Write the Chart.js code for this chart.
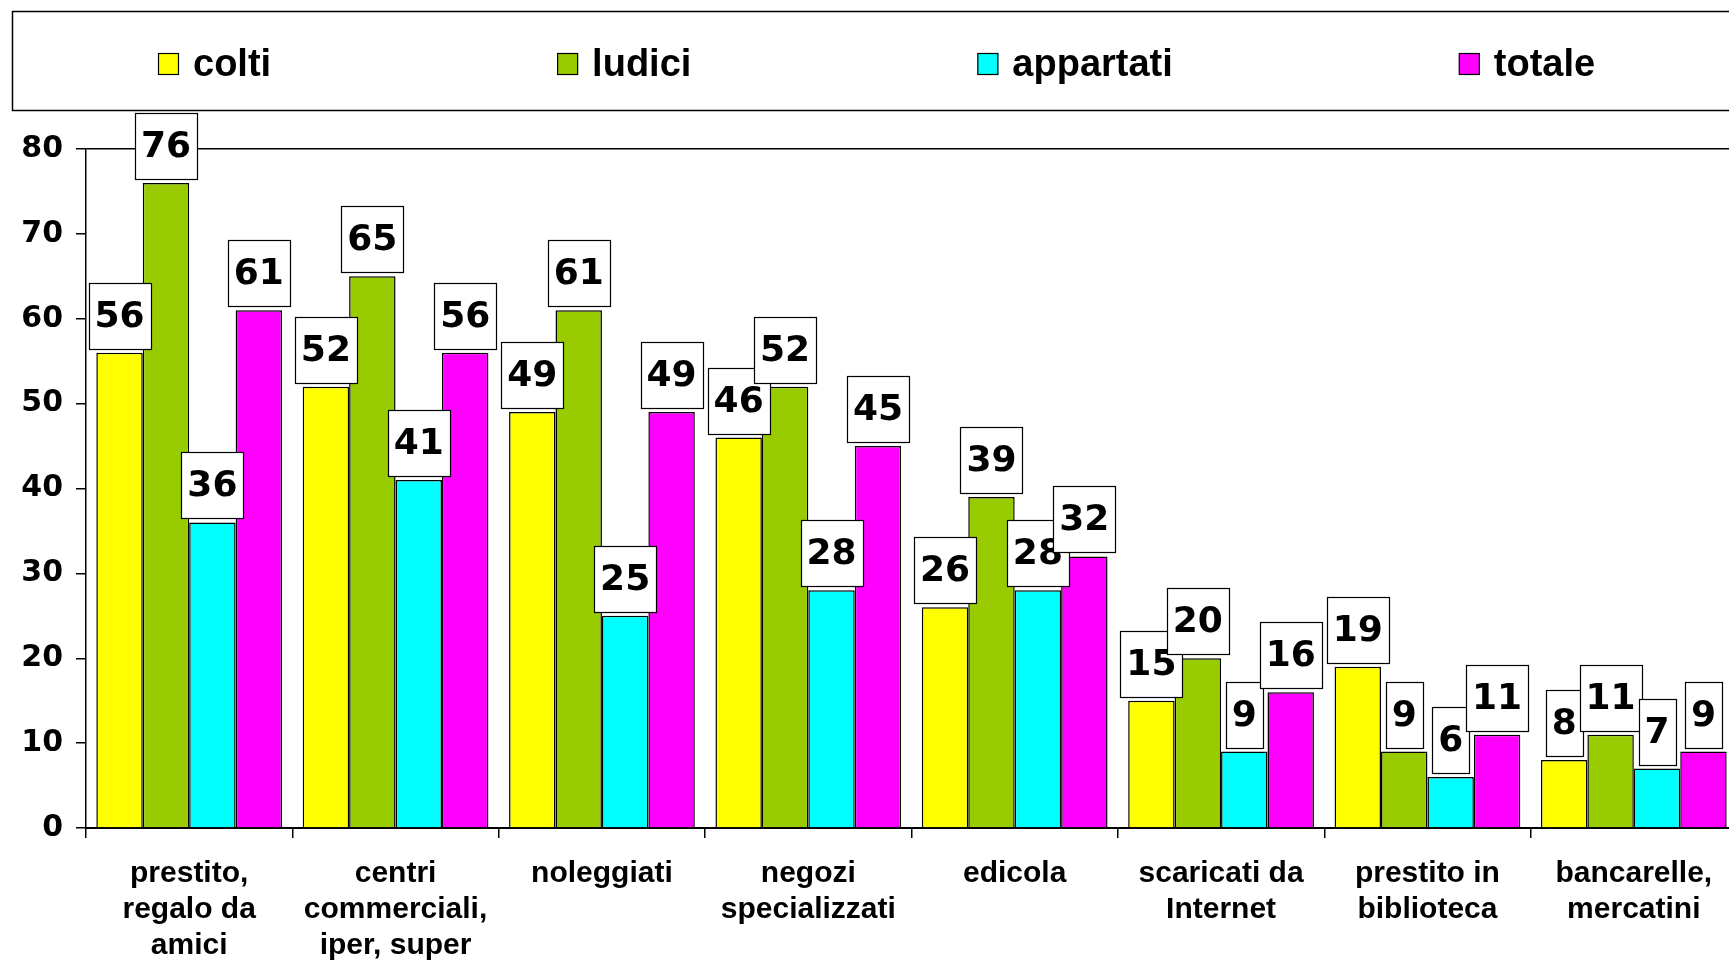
<!DOCTYPE html>
<html>
<head>
<meta charset="utf-8">
<script src="https://cdn.jsdelivr.net/npm/chart.js@4/dist/chart.umd.min.js"></script>
<style>
  html, body { margin: 0; padding: 0; background: #fff; overflow: hidden; }
  #wrap { position: relative; width: 1745px; height: 960px; }
</style>
</head>
<body>
<div id="wrap"><canvas id="chart"></canvas></div>
<script>
// categories (multi-line labels as in the original)
const categories = [
  ['prestito,', 'regalo da', 'amici'],
  ['centri', 'commerciali,', 'iper, super'],
  ['noleggiati'],
  ['negozi', 'specializzati'],
  ['edicola'],
  ['scaricati da', 'Internet'],
  ['prestito in', 'biblioteca'],
  ['bancarelle,', 'mercatini']
];

const seriesNames = ['colti', 'ludici', 'appartati', 'totale'];
const colti     = [56, 52, 49, 46, 26, 15, 19, 8];
const ludici    = [76, 65, 61, 52, 39, 20, 9, 11];
const appartati = [36, 41, 25, 28, 28, 9, 6, 7];
const totale    = [61, 56, 49, 45, 32, 16, 11, 9];
const yTicks = [0, 10, 20, 30, 40, 50, 60, 70, 80];

const colours = ['#FFFF00', '#99CC00', '#00FFFF', '#FF00FF'];

// legend drawn inside a bordered box along the top
const boxLegend = {
  id: 'boxLegend',
  afterDraw(chart) {
    const ctx = chart.ctx;
    ctx.save();
    ctx.strokeStyle = '#000';
    ctx.lineWidth = 1.5;
    ctx.strokeRect(12.5, 11.5, chart.width + 10, 99);
    ctx.font = 'bold 38px "Liberation Sans"';
    ctx.textBaseline = 'alphabetic';
    let x = 158;
    chart.data.datasets.forEach(ds => {
      ctx.fillStyle = ds.backgroundColor;
      ctx.fillRect(x, 53, 21, 22);
      ctx.lineWidth = 1.2;
      ctx.strokeRect(x + 0.5, 53.5, 20, 21);
      ctx.fillStyle = '#000';
      ctx.fillText(ds.label, x + 35, 76);
      x += 35 + ctx.measureText(ds.label).width + 286;
    });
    ctx.restore();
  }
};

// white boxed value labels above every bar
const boxLabels = {
  id: 'boxLabels',
  afterDatasetsDraw(chart) {
    const ctx = chart.ctx;
    ctx.save();
    ctx.font = 'bold 36px "DejaVu Sans"';
    ctx.textAlign = 'center';
    ctx.textBaseline = 'middle';
    chart.data.datasets.forEach((ds, di) => {
      chart.getDatasetMeta(di).data.forEach((bar, i) => {
        const txt = String(ds.data[i]);
        const w = Math.round(ctx.measureText(txt).width) + 12;
        const h = 66;
        const left = Math.round(bar.x - w / 2) + 0.5;
        const top = Math.round(bar.y - 4 - h) + 0.5;
        ctx.fillStyle = '#fff';
        ctx.fillRect(left, top, w, h);
        ctx.strokeStyle = '#000';
        ctx.lineWidth = 1.2;
        ctx.strokeRect(left, top, w, h);
        ctx.fillStyle = '#000';
        ctx.fillText(txt, bar.x, top + h / 2 + 1);
      });
    });
    ctx.restore();
  }
};

const ctx = document.getElementById('chart').getContext('2d');

const myChart = new Chart(ctx, {
  type: 'bar',
  data: {
    labels: categories,
    datasets: [colti, ludici, appartati, totale].map((vals, k) => ({
      label: seriesNames[k],
      data: vals,
      backgroundColor: colours[k],
      borderColor: '#000',
      borderWidth: 1.5,
      categoryPercentage: 0.9,
      barPercentage: 1.0
    }))
  },
  options: {
    responsive: true,
    maintainAspectRatio: false,
    animation: false,
    layout: { padding: { top: 149, left: 0, right: 8, bottom: 0 } },
    plugins: {
      legend: { display: false },
      tooltip: { enabled: false }
    },
    scales: {
      x: {
        ticks: {
          color: '#000',
          padding: 18,
          maxRotation: 0,
          autoSkip: false,
          font: { family: 'Liberation Sans', weight: 'bold', size: 30, lineHeight: 1.2 }
        },
        grid: { drawOnChartArea: false, offset: true, tickColor: '#000', tickLength: 10, lineWidth: 1.5 },
        border: { color: '#000', width: 2 },
        afterFit(s) { s.height = 132; s.paddingLeft = 0; s.paddingRight = 0; }
      },
      y: {
        min: 0,
        max: 80,
        afterBuildTicks(s) { s.ticks = yTicks.map(v => ({ value: v })); },
        ticks: {
          color: '#000',
          padding: 13,
          font: { family: 'DejaVu Sans', weight: 'bold', size: 30 }
        },
        grid: {
          color: c => (c.tick && c.tick.value === 80) ? '#000' : 'rgba(0,0,0,0)',
          tickColor: '#000',
          tickLength: 10,
          lineWidth: 1.5
        },
        border: { color: '#000', width: 1.5 },
        afterFit(s) { s.width = 86; s.paddingTop = 0; s.paddingBottom = 0; }
      }
    }
  },
  plugins: [boxLabels, boxLegend]
});
</script>
</body>
</html>
